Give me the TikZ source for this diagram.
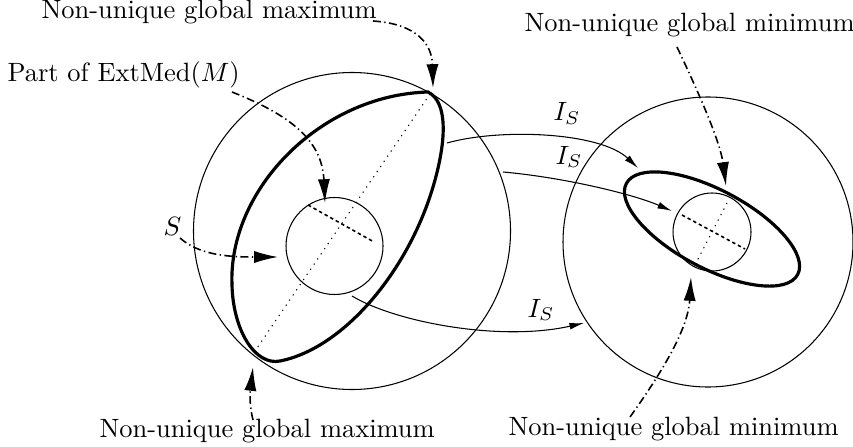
\documentclass[tikz,border=0pt]{standalone}
\usetikzlibrary{arrows.meta}
\begin{document}
\begin{tikzpicture}[x=0.378pt,y=-0.378pt,
  thinline/.style={line width=0.4pt},
  thickcurve/.style={line width=1.2pt},
  annot/.style={line width=0.6pt,dash pattern=on 3pt off 1.3pt on 0.5pt off 1.3pt,-{Latex[length=9pt,width=4.6pt]}},
  maparrow/.style={line width=0.4pt,-{Latex[length=5.5pt,width=2.6pt]}},
  dotline/.style={line width=0.4pt,dash pattern=on 0.45pt off 1.9pt},
  dashline/.style={line width=0.6pt,dash pattern=on 1.3pt off 1.1pt},
  lbl/.style={inner sep=0pt,anchor=base west}]
\useasboundingbox (0,0) rectangle (853,446);
% left domain
\coordinate (cL) at (352,231);
\coordinate (cl) at (334.5,246);
\draw[thinline] (cL) circle [radius=158.5];
\draw[thinline] (cl) circle [radius=48.5];
\coordinate (k1) at (428,92);
\coordinate (k2) at (435,180);
\coordinate (k3) at (280,361);
\coordinate (k4) at (232,285);
\draw[thickcurve] (k1) .. controls (448,102) and (446,140) .. (k2)
  .. controls (411,268) and (345,348) .. (k3)
  .. controls (255,366) and (233,330) .. (k4)
  .. controls (228,190) and (320,95) .. (k1) -- cycle;
\coordinate (maxA) at (430,94);
\coordinate (maxB) at (255,351);
\draw[dotline] (maxA) -- (maxB);
\coordinate (emA) at (308,205);
\coordinate (emB) at (374,242);
\draw[dashline] (emA) -- (emB);
% right domain
\coordinate (cR) at (708,242);
\coordinate (cr) at (712,232);
\coordinate (ce) at (712,229);
\draw[thinline] (cR) circle [radius=145];
\draw[thinline] (cr) circle [radius=39];
\draw[thickcurve,rotate around={-28:(ce)}] (ce) ellipse [x radius=97, y radius=39];
\coordinate (mdA) at (682,215);
\coordinate (mdB) at (745,249);
\draw[dashline] (mdA) -- (mdB);
\coordinate (mtA) at (727,203);
\coordinate (mtB) at (697,261);
\draw[dotline] (mtA) -- (mtB);
% texts
\node[lbl] (tmaxtop) at (41,19) {Non-unique global maximum};
\node[lbl] (text) at (7,82) {Part of ExtMed$(M)$};
\node[lbl] (tS) at (163,235) {$S$};
\node[lbl] (tmaxbot) at (99,437) {Non-unique global maximum};
\node[lbl] (tmintop) at (524,32) {Non-unique global minimum};
\node[lbl] (tminbot) at (508,435) {Non-unique global minimum};
\node[lbl] (is1) at (553,121) {$I_S$};
\node[lbl] (is2) at (555,164) {$I_S$};
\node[lbl] (is3) at (527,317) {$I_S$};
% annotation arrows
\coordinate (a1s) at (373,21);  \coordinate (a1t) at (433,88);
\coordinate (a2s) at (232,92);  \coordinate (a2t) at (325,203);
\coordinate (a3s) at (180,238); \coordinate (a3t) at (278,257);
\coordinate (a4s) at (253,420); \coordinate (a4t) at (253,367);
\coordinate (a5s) at (677,47);  \coordinate (a5t) at (726,186);
\coordinate (a6s) at (630,417); \coordinate (a6t) at (691,277);
\draw[annot] (a1s) .. controls (418,24) and (432,45) .. (a1t);
\draw[annot] (a2s) .. controls (290,115) and (322,140) .. (a2t);
\draw[annot] (a3s) .. controls (200,256) and (232,257) .. (a3t);
\draw[annot] (a4s) .. controls (248,400) and (251,385) .. (a4t);
\draw[annot] (a5s) .. controls (695,85) and (720,140) .. (a5t);
\draw[annot] (a6s) .. controls (660,375) and (688,330) .. (a6t);
% map arrows
\coordinate (m1s) at (447,143); \coordinate (m1t) at (638,168);
\coordinate (m2s) at (503,172); \coordinate (m2t) at (672,211);
\coordinate (m3s) at (352,296); \coordinate (m3t) at (584,323);
\draw[maparrow] (m1s) .. controls (500,128) and (600,132) .. (m1t);
\draw[maparrow] (m2s) .. controls (560,177) and (630,193) .. (m2t);
\draw[maparrow] (m3s) .. controls (395,322) and (500,342) .. (m3t);
\end{tikzpicture}
\end{document}
